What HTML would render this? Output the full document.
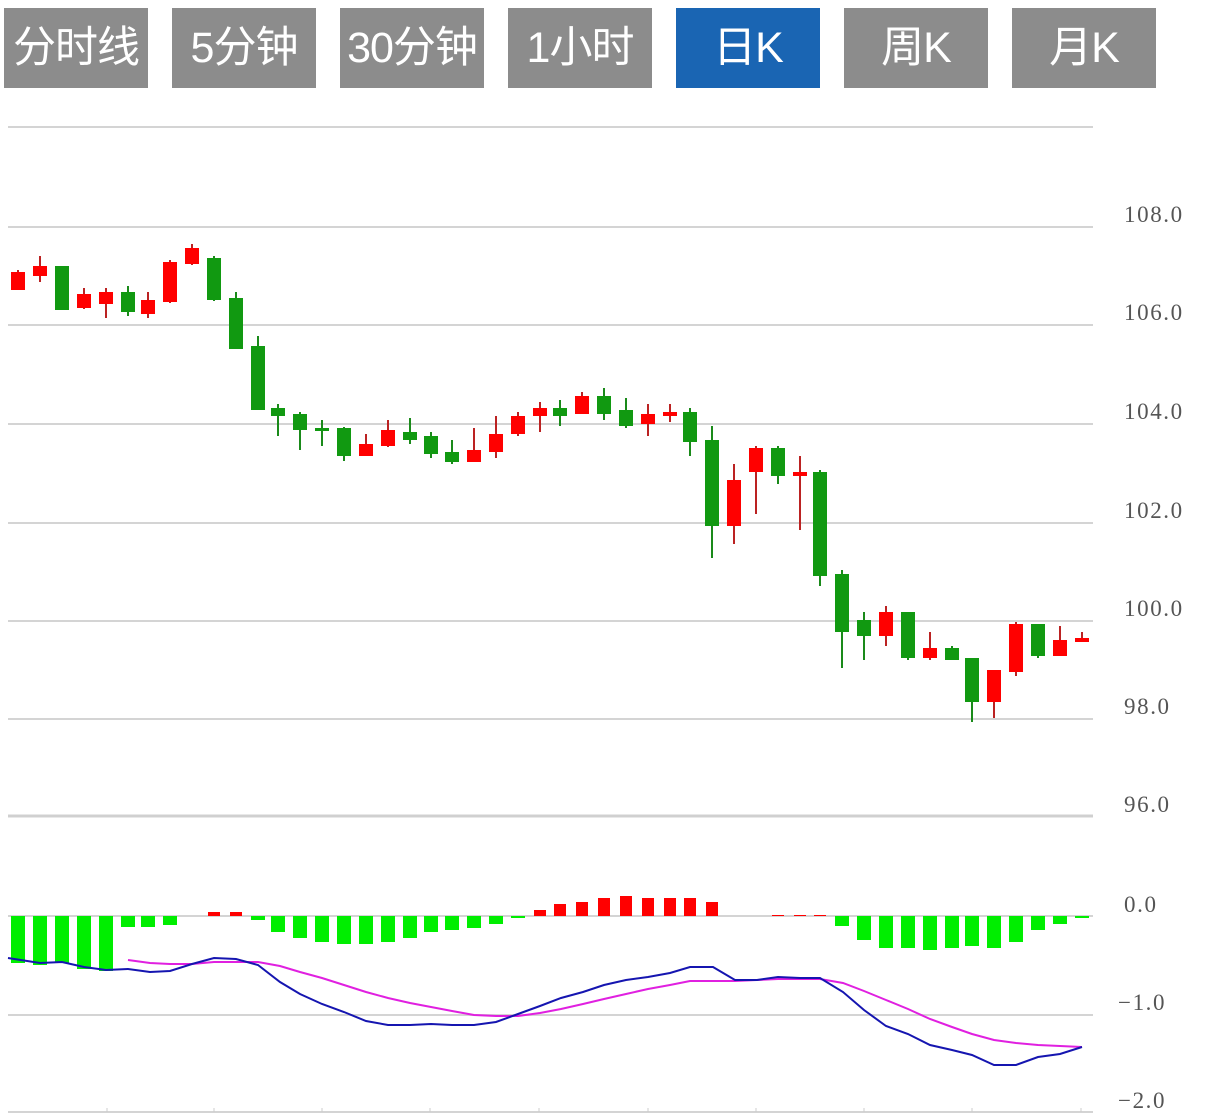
<!DOCTYPE html>
<html><head><meta charset="utf-8"><style>
html,body{margin:0;padding:0;background:#fff;width:1213px;height:1115px;overflow:hidden}
.b{position:absolute;top:8px;width:144px;height:80px;background:#8c8c8c;color:#fff;font:43px "Liberation Sans","Noto Sans CJK SC",sans-serif;line-height:80px;text-align:center;letter-spacing:-1px;white-space:nowrap}
svg{position:absolute;left:0;top:0}
</style></head><body>
<div class="b" style="left:4px">分时线</div>
<div class="b" style="left:172px">5分钟</div>
<div class="b" style="left:340px">30分钟</div>
<div class="b" style="left:508px">1小时</div>
<div class="b" style="left:676px;background:#1a65b3">日K</div>
<div class="b" style="left:844px">周K</div>
<div class="b" style="left:1012px">月K</div>
<svg id="s" width="1213" height="1115" xmlns="http://www.w3.org/2000/svg"></svg>
<script>
var s='';
function L(x1,y1,x2,y2,c,w){s+='<line x1="'+x1+'" y1="'+y1+'" x2="'+x2+'" y2="'+y2+'" stroke="'+c+'" stroke-width="'+w+'"/>';}
function T(x,y,t){s+='<text x="'+x+'" y="'+y+'" font-family="Liberation Serif,serif" font-size="23" letter-spacing="1.6" fill="#555">'+t+'</text>';}
[127,227,325,424,523,621,719].forEach(function(y){L(8,y,1093,y,'#d4d4d4',2)});
L(8,816,1093,816,'#d0d0d0',3);
[[222,'108.0'],[320,'106.0'],[419,'104.0'],[518,'102.0'],[616,'100.0'],[714,'98.0'],[812,'96.0']].forEach(function(a){T(1124,a[0],a[1])});
L(8,916,1093,916,'#d4d4d4',2);L(8,1015,1093,1015,'#d4d4d4',2);L(8,1112,1093,1112,'#d4d4d4',2);
[107,214,322,430,539,648,756,864,972,1081].forEach(function(x){L(x,1108,x,1112,'#ccc',1)});
T(1124,912,'0.0');T(1118,1010,'−1.0');T(1118,1108,'−2.0');
var C=[[18,272,290,270,290,1],[40,266,276,256,282,1],[62,266,310,266,310,0],[84,294,308,288,309,1],[106,292,304,288,318,1],[128,292,312,286,316,0],[148,300,314,292,318,1],[170,262,302,260,303,1],[192,248,264,244,265,1],[214,258,300,256,301,0],[236,298,349,292,349,0],[258,346,410,336,410,0],[278,408,416,404,436,0],[300,414,430,412,450,0],[322,428,430,420,446,0],[344,428,456,427,461,0],[366,444,456,434,456,1],[388,430,446,420,447,1],[410,432,440,418,444,0],[431,436,454,432,458,0],[452,452,462,440,464,0],[474,450,462,428,462,1],[496,434,452,416,458,1],[518,416,434,412,436,1],[540,408,416,402,432,1],[560,408,416,400,426,0],[582,396,414,392,414,1],[604,396,414,388,420,0],[626,410,426,398,428,0],[648,414,424,404,436,1],[670,412,416,404,422,1],[690,412,442,408,456,0],[712,440,526,426,558,0],[734,480,526,464,544,1],[756,448,472,446,514,1],[778,448,476,446,484,0],[800,472,476,456,530,1],[820,472,576,470,586,0],[842,574,632,570,668,0],[864,620,636,612,660,0],[886,612,636,606,646,1],[908,612,658,612,660,0],[930,648,658,632,660,1],[952,648,660,646,660,0],[972,658,702,658,722,0],[994,670,702,670,718,1],[1016,624,672,622,676,1],[1038,624,656,624,658,0],[1060,640,656,626,656,1],[1082,638,642,632,642,1]];
C.forEach(function(c){var col=c[5]?'#f00':'#119911',wc=c[5]?'#b22':'#1a8a1a';L(c[0],c[3],c[0],c[4],wc,2);s+='<rect x="'+(c[0]-7)+'" y="'+c[1]+'" width="14" height="'+Math.max(3,c[2]-c[1])+'" fill="'+col+'"/>';});
var H=[-47,-49,-47,-53,-55,-11,-11,-9,0,4,4,-4,-16,-22,-26,-28,-28,-26,-22,-16,-14,-12,-8,-2,6,12,14,18,20,18,18,18,14,0,0,1,1,1,-10,-24,-32,-32,-34,-32,-30,-32,-26,-14,-8,-2];
H.forEach(function(h,i){if(!h)return;var x=C[i][0];if(h>0)s+='<rect x="'+(x-6)+'" y="'+(916-h)+'" width="12" height="'+h+'" fill="#f00"/>';else s+='<rect x="'+(x-7)+'" y="916" width="14" height="'+(-h)+'" fill="#00ee00"/>';});
var B=[[8,958],[40,963],[62,962],[84,967],[106,970],[128,969],[150,972],[170,971],[192,964],[214,958],[236,959],[258,965],[280,982],[300,994],[322,1004],[344,1012],[366,1021],[388,1025],[410,1025],[431,1024],[452,1025],[474,1025],[496,1022],[518,1014],[540,1006],[561,998],[583,992],[604,985],[626,980],[648,977],[670,973],[690,967],[713,967],[735,980],[757,980],[778,977],[800,978],[820,978],[843,992],[864,1010],[886,1026],[908,1034],[930,1045],[952,1050],[972,1055],[994,1065],[1016,1065],[1038,1057],[1060,1054],[1082,1047]];
var M=[[128,960],[150,963],[170,964],[192,964],[214,962],[236,962],[258,962],[280,966],[300,972],[322,978],[344,985],[366,992],[388,998],[410,1003],[431,1007],[452,1011],[474,1015],[496,1016],[518,1016],[540,1013],[561,1009],[583,1004],[604,999],[626,994],[648,989],[670,985],[690,981],[713,981],[735,981],[757,980],[778,979],[800,979],[820,979],[843,983],[864,991],[886,1000],[908,1009],[930,1019],[952,1027],[972,1034],[994,1040],[1016,1043],[1038,1045],[1060,1046],[1082,1047]];
s+='<polyline points="'+M.map(function(p){return p.join(',')}).join(' ')+'" fill="none" stroke="#e020e0" stroke-width="2"/>';
s+='<polyline points="'+B.map(function(p){return p.join(',')}).join(' ')+'" fill="none" stroke="#1515b0" stroke-width="2"/>';
document.getElementById('s').innerHTML=s;
</script>
</body></html>
